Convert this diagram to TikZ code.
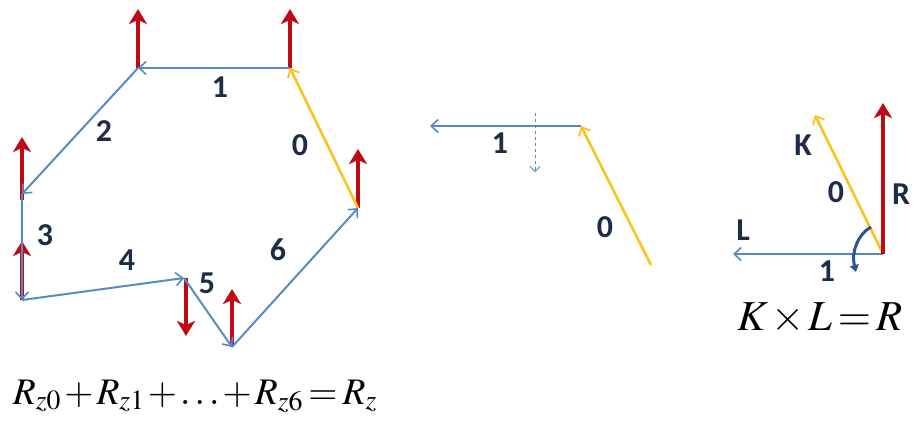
\documentclass[tikz,border=0pt]{standalone}
\usepackage{mathptmx}
\usepackage{fontspec}
\usepackage{graphicx}
\newfontfamily\labfont{Carlito}[BoldFont={Carlito Bold}]
\usetikzlibrary{arrows.meta}
\definecolor{vblue}{RGB}{88,138,195}
\definecolor{vred}{RGB}{190,10,20}
\definecolor{vyellow}{RGB}{250,195,30}
\definecolor{labcol}{RGB}{30,45,70}
\definecolor{turncol}{RGB}{45,85,150}
\tikzset{
  bluevec/.style={draw=vblue, line width=2bp, -{Straight Barb[length=7bp,width=13bp,line width=1.6bp]}},
  yellowvec/.style={draw=vyellow, line width=2.6bp, -{Straight Barb[length=7bp,width=13bp,line width=1.8bp]}},
  redvec/.style={draw=vred, line width=4.2bp, -{Stealth[length=15bp,width=18bp,inset=4bp]}},
  dashvec/.style={draw=vblue, line width=1bp, dashed, -{Straight Barb[length=5bp,width=10bp,line width=0.8bp]}},
  turnvec/.style={draw=turncol, line width=3bp, -{Triangle[length=7bp,width=9bp]}},
  lab/.style={text=labcol, font=\labfont\bfseries\fontsize{32}{33}\selectfont, inner sep=0pt},
  eqn/.style={text=black, inner sep=0pt, anchor=base, font=\fontsize{32}{36}\selectfont}
}
\begin{document}
\begin{tikzpicture}[x=1bp,y=-1bp]
\useasboundingbox[fill=white] (0,0) rectangle (917,424);
% left polygon vertices
\coordinate (A) at (290,68);
\coordinate (B) at (138,68);
\coordinate (C) at (22,194);
\coordinate (D) at (22,300);
\coordinate (E) at (184,278);
\coordinate (F) at (232,347);
\coordinate (G) at (358,208);
% red arrow tips
\coordinate (rA) at (290,9);
\coordinate (rB) at (138,9);
\coordinate (rC) at (22,137);
\coordinate (rD) at (22,241);
\coordinate (rE) at (186,336);
\coordinate (rF) at (232,289);
\coordinate (rG) at (358,149);
\coordinate (C0) at (22,200);
\coordinate (E0) at (186,278);
% red moments
\draw[redvec] (A) -- (rA);
\draw[redvec] (B) -- (rB);
\draw[redvec] (C0) -- (rC);
\draw[redvec] (D) -- (rD);
\draw[redvec] (E0) -- (rE);
\draw[redvec] (F) -- (rF);
\draw[redvec] (G) -- (rG);
% polygon edges
\draw[yellowvec] (G) -- (A);
\draw[bluevec] (A) -- (B);
\draw[bluevec] (B) -- (C);
\draw[bluevec] (C) -- (D);
\draw[bluevec] (D) -- (E);
\draw[bluevec] (E) -- (F);
\draw[bluevec] (F) -- (G);
% labels
\node[lab] (l0) at (300,145) {0};
\node[lab] (l1) at (220,87) {1};
\node[lab] (l2) at (104,131) {2};
\node[lab] (l3) at (45,235) {3};
\node[lab] (l4) at (127,260) {4};
\node[lab] (l5) at (207,283) {5};
\node[lab] (l6) at (278,250) {6};
\node[eqn] (eqL) at (195,404) {\resizebox{364bp}{!}{\medmuskip=1.5mu\thickmuskip=2.5mu$R_{z0}+R_{z1}+\ldots+R_{z6}=R_z$}};
% middle figure
\coordinate (mA) at (581,126);
\coordinate (mB) at (430,126);
\coordinate (mG) at (651,265);
\coordinate (mdT) at (535,113);
\coordinate (mdB) at (535,172);
\draw[yellowvec] (mG) -- (mA);
\draw[bluevec] (mA) -- (mB);
\draw[dashvec] (mdT) -- (mdB);
\node[lab] (m1) at (500,143) {1};
\node[lab] (m0) at (605,227) {0};
% right figure
\coordinate (O) at (883,254);
\coordinate (Rt) at (883,103);
\coordinate (Kt) at (815,115);
\coordinate (Lt) at (733,254);
\coordinate (t0) at (871,227);
\coordinate (t1) at (856,272);
\draw[yellowvec] (O) -- (Kt);
\draw[bluevec] (O) -- (Lt);
\draw[redvec] (O) -- (Rt);
\draw[turnvec] (t0) .. controls (858,234) and (851,252) .. (856,272);
\node[lab] (rK) at (803,145) {K};
\node[lab] (r0) at (836,192) {0};
\node[lab] (rR) at (901,194) {R};
\node[lab] (rL) at (743,230) {L};
\node[lab] (r1) at (827,271) {1};
\node[eqn] (eqR) at (820,330) {\resizebox{166bp}{!}{\medmuskip=1.5mu\thickmuskip=2.5mu$K\times L=R$}};
\end{tikzpicture}
\end{document}
